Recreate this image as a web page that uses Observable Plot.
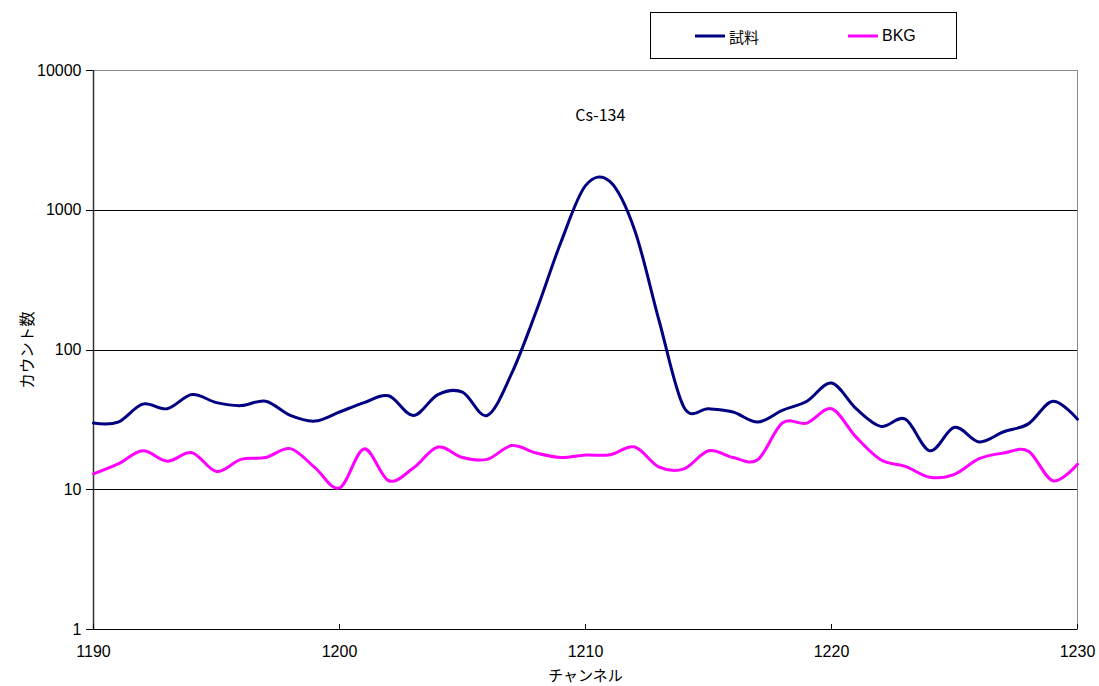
<!DOCTYPE html>
<html>
<head>
<meta charset="utf-8">
<script src="https://cdn.jsdelivr.net/npm/d3@7"></script>
<script src="https://cdn.jsdelivr.net/npm/@observablehq/plot@0.6"></script>
<style>
  html, body { margin: 0; padding: 0; background: #fff; }
  #wrap { position: relative; width: 1099px; height: 686px; }
  #legend {
    position: absolute; left: 650px; top: 12px; width: 305px; height: 45px;
    border: 1px solid #000; background: #fff;
    font-family: "Noto Sans CJK JP", "Liberation Sans", sans-serif; font-size: 15px;
  }
  .item { position: absolute; top: 13px; display: flex; align-items: center; height: 20px; }
  .item svg { margin-right: 4px; }
  .bkg { font-family: "Liberation Sans", sans-serif; font-size: 16px; }
</style>
</head>
<body>
<div id="wrap">
  <div id="chart"></div>
  <div id="legend"></div>
</div>
<script>
const channels = [1190,1191,1192,1193,1194,1195,1196,1197,1198,1199,1200,1201,1202,1203,1204,1205,1206,1207,1208,1209,1210,1211,1212,1213,1214,1215,1216,1217,1218,1219,1220,1221,1222,1223,1224,1225,1226,1227,1228,1229,1230];
const sampleCounts = [30,30.5,41,38,48,42,40,43,34,31,36,42,47,34,48,50,34,68,190,590,1500,1600,720,160,39,38,36,30.5,37,43,58,38,28.4,32,19,28,22,26,29.6,43,32];
const bkgCounts = [13,15.3,19,16,18.4,13.5,16.5,17,19.7,14.4,10.3,19.6,11.6,14.3,20.2,17,16.5,20.7,18.3,17,17.7,17.8,20.2,14.5,14.1,19,17,16.4,30,30,38,23.8,16.4,14.7,12.3,12.9,16.7,18.3,18.9,11.6,15.2];
const seriesNames = ["試料", "BKG"];
const seriesColors = ["#000080", "#FF00FF"];
const xTicks = [1190, 1200, 1210, 1220, 1230];
const yTicks = [1, 10, 100, 1000, 10000];
const gridValues = [10, 100, 1000];
const annotations = [{label: "Cs-134", channel: 1210.6, count: 4700}];
const xLabel = "チャンネル";
const yLabel = "カウント数";

const rows = [];
channels.forEach((c, i) => {
  rows.push({channel: c, count: sampleCounts[i], series: seriesNames[0]});
});
channels.forEach((c, i) => {
  rows.push({channel: c, count: bkgCounts[i], series: seriesNames[1]});
});

const jp = "'Noto Sans CJK JP', 'Liberation Sans', sans-serif";
const sans = "Liberation Sans";

const chart = Plot.plot({
  width: 1099,
  height: 686,
  marginLeft: 93,
  marginRight: 22,
  marginTop: 70,
  marginBottom: 57,
  style: {fontFamily: "Liberation Sans", fontSize: "16px", background: "#fff", color: "#000"},
  x: {domain: [1190, 1230], axis: null},
  y: {type: "log", domain: [1, 10000], axis: null},
  color: {domain: seriesNames, range: seriesColors},
  marks: [
    Plot.frame({stroke: "#888", strokeWidth: 1, shapeRendering: "crispEdges"}),
    Plot.ruleY(gridValues, {stroke: "#000", strokeWidth: 1, shapeRendering: "crispEdges"}),
    Plot.ruleY([1], {stroke: "#000", strokeWidth: 1.2}),
    Plot.ruleX([1190], {stroke: "#333", strokeWidth: 1.5}),
    Plot.ruleX(xTicks, {stroke: "#000", strokeWidth: 1, insetTop: 554, shapeRendering: "crispEdges"}),
    Plot.ruleY(yTicks, {stroke: "#000", strokeWidth: 1, insetLeft: -7, insetRight: 984, shapeRendering: "crispEdges"}),
    Plot.text(xTicks, {x: d => d, frameAnchor: "bottom", lineAnchor: "middle", dy: 22, text: d => String(d), fontSize: 16, fontFamily: sans}),
    Plot.text(yTicks, {y: d => d, frameAnchor: "left", dx: -12, textAnchor: "end", text: d => String(d), fontSize: 16, fontFamily: sans}),
    Plot.line(rows, {x: "channel", y: "count", z: "series", stroke: "series", strokeWidth: 3, curve: "cardinal", tension: 0}),
    Plot.text(annotations, {x: "channel", y: "count", text: "label", fontSize: 16, fontFamily: jp}),
    Plot.text([xLabel], {text: d => d, frameAnchor: "bottom", lineAnchor: "middle", textAnchor: "middle", dy: 47, fontSize: 15, fontFamily: jp}),
    Plot.text([yLabel], {text: d => d, frameAnchor: "left", textAnchor: "middle", lineAnchor: "middle", dx: -65, rotate: -90, fontSize: 15.5, fontFamily: jp})
  ]
});
document.getElementById("chart").appendChild(chart);

const legend = document.getElementById("legend");
const lefts = [44, 197];
seriesNames.forEach((name, i) => {
  const item = document.createElement("div");
  item.className = "item";
  item.style.left = lefts[i] + "px";
  item.innerHTML = `<svg width="30" height="6"><line x1="0" x2="30" y1="3" y2="3" stroke="${seriesColors[i]}" stroke-width="3"/></svg><span class="${i === 1 ? 'bkg' : ''}">${name}</span>`;
  legend.appendChild(item);
});
</script>
</body>
</html>
